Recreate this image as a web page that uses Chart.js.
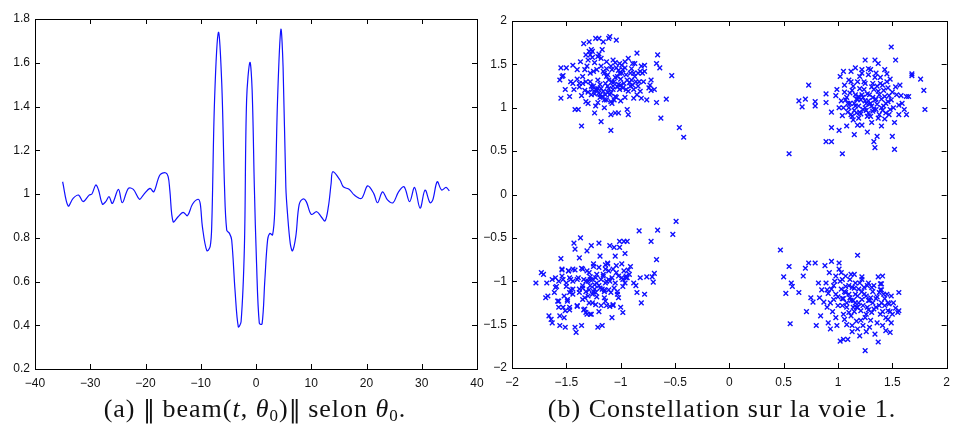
<!DOCTYPE html>
<html lang="fr">
<head>
<meta charset="UTF-8">
<title>beam / constellation</title>
<script src="https://cdn.jsdelivr.net/npm/chart.js"></script>
<style>
  body { margin: 0; background: #fff; width: 957px; height: 432px; position: relative; overflow: hidden; }
  canvas { position: absolute; top: 0; }
  #beamCanvas { left: 0; }
  #constCanvas { left: 480px; }
  .caption {
    position: absolute; top: 394px;
    font-family: 'Liberation Serif', 'DejaVu Serif', serif;
    font-size: 26px; letter-spacing: 1px; color: #111; white-space: nowrap;
    transform: translateX(-50%);
  }
  .caption sub { font-size: 17px; vertical-align: -4px; line-height: 0; }
  .caption .nrm { font-family: 'DejaVu Serif', serif; font-size: 24px; letter-spacing: 0; }
</style>
</head>
<body>

<canvas id="beamCanvas" width="500" height="395"></canvas>
<canvas id="constCanvas" width="477" height="395"></canvas>

<div class="caption" style="left:255px">(a) <span class="nrm">&#8214;</span> beam(<i>t</i>, <i>&theta;</i><sub>0</sub>)<span class="nrm">&#8214;</span> selon <i>&theta;</i><sub>0</sub>.</div>
<div class="caption" style="left:722px">(b) Constellation sur la voie 1.</div>

<script>
// (a) norme du beam selon theta0
const beamX = [-35, -34.0, -33.1, -32.1, -31.3, -30.2, -29.7, -29.0, -28.5, -27.8, -27.2, -26.6, -26.0, -24.9,
  -24.2, -23.1, -22.2, -21.1, -20.4, -19.2, -18.5, -17.4, -16.4, -15.9, -15.6, -15.0, -14.1, -13.2, -12.4,
  -11.5, -10.5, -10.1, -9.7, -8.9, -8.3, -8.0, -7.5, -6.8, -6.2, -5.7, -5.3, -4.8, -4.4, -3.8, -3.2, -2.7,
  -2.1, -1.7, -1.1, -0.7, -0.3, 0.1, 0.6, 1.1, 1.6, 2.1, 2.5, 3.0, 3.4, 3.9, 4.5, 4.9, 5.4, 5.7, 6.2, 6.6,
  7.2, 7.8, 8.5, 9.1, 10.0, 11.0, 11.8, 12.5, 13.1, 13.6, 13.9, 15.2, 15.8, 16.9, 17.8, 19.1, 20.2, 21.3,
  22.0, 22.9, 23.8, 24.8, 25.8, 26.8, 27.8, 28.7, 29.7, 30.6, 31.5, 32.0, 32.8, 33.6, 34.4, 35.0];
const beamY = [1.056, 0.945, 0.98, 0.995, 0.965, 0.995, 1.0, 1.041, 1.018, 0.954, 0.965, 0.988, 0.957, 1.021,
  0.96, 1.026, 1.021, 0.976, 0.995, 1.026, 1.01, 1.087, 1.097, 1.079, 1.018, 0.873, 0.896, 0.916, 0.901,
  0.953, 0.976, 0.957, 0.85, 0.741, 0.759, 0.866, 1.43, 1.739, 1.506, 1.033, 0.835, 0.82, 0.79, 0.561, 0.393, 0.416,
  0.759, 1.43, 1.602, 1.475, 1.033, 0.683, 0.409, 0.406, 0.607, 0.79, 0.82, 0.813, 0.927, 1.43, 1.752, 1.582, 1.033, 0.911, 0.774, 0.74,
  0.805, 0.95, 0.977, 0.965, 0.907, 0.919, 0.896, 0.877, 0.942, 1.049, 1.102, 1.064, 1.033, 1.021, 0.995, 0.98, 1.037, 1.003,
  0.96, 1.01, 0.973, 0.96, 1.01, 1.033, 0.965, 1.03, 0.935, 1.018, 0.96, 0.973, 1.056, 1.018, 1.03, 1.014];
const beamXTicks = [-40, 40, 10];
const beamYTicks = [0.2, 1.8, 0.2];

// (b) constellation, voie 1 : quatre nuages
const ptsTopLeft = [[-1.56,1.32],[-1.55,1.46],[-1.54,1.36],[-1.53,1.37],[-1.55,1.11],[-1.51,1.21],[-1.50,1.46],
  [-1.47,1.13],[-1.44,1.28],[-1.44,1.49],[-1.43,1.21],[-1.42,0.98],[-1.39,0.98],[-1.40,1.44],[-1.38,1.28],
  [-1.38,1.24],[-1.37,1.53],[-1.36,0.79],[-1.35,1.36],[-1.35,1.28],[-1.34,1.74],[-1.33,1.44],[-1.32,1.61],
  [-1.32,1.30],[-1.32,1.07],[-1.31,1.48],[-1.30,1.05],[-1.29,1.76],[-1.29,1.65],[-1.28,1.61],[-1.28,1.30],
  [-1.27,1.67],[-1.26,1.65],[-1.26,1.21],[-1.25,1.42],[-1.24,0.94],[-1.23,1.80],[-1.23,1.21],[-1.23,1.02],
  [-1.22,1.44],[-1.21,1.32],[-1.21,1.59],[-1.20,1.80],[-1.20,1.17],[-1.19,1.15],[-1.18,0.84],[-1.18,1.57],
  [-1.17,1.13],[-1.17,1.67],[-1.16,1.76],[-1.16,1.42],[-1.15,1.00],[-1.14,1.28],[-1.13,1.36],[-1.13,1.09],
  [-1.12,1.25],[-1.11,1.32],[-1.11,1.80],[-1.10,1.82],[-1.09,1.07],[-1.09,0.92],[-1.09,0.74],[-1.08,1.44],
  [-1.07,1.21],[-1.07,1.55],[-1.07,1.25],[-1.06,1.09],[-1.05,1.13],[-1.05,0.94],[-1.04,1.78],[-1.04,1.46],
  [-1.03,1.36],[-1.02,0.94],[-1.01,1.21],[-1.01,1.51],[-1.01,1.40],[-1.00,1.26],[-0.99,1.49],[-0.98,1.23],
  [-0.98,1.44],[-0.96,1.53],[-0.95,1.21],[-0.94,1.32],[-0.94,0.98],[-0.93,1.57],[-0.93,0.92],[-0.91,1.25],
  [-0.91,1.40],[-0.90,1.32],[-0.89,1.51],[-0.88,1.11],[-0.88,1.21],[-0.87,1.51],[-0.86,1.30],[-0.85,1.63],
  [-0.85,1.15],[-0.84,1.40],[-0.83,1.30],[-0.82,1.42],[-0.81,1.48],[-0.81,1.11],[-0.80,1.40],[-0.79,1.30],
  [-0.78,1.49],[-0.78,1.42],[-0.76,1.09],[-0.74,1.23],[-0.73,1.26],[-0.72,1.20],[-0.72,1.32],[-0.69,1.21],
  [-0.67,1.51],[-0.67,1.06],[-0.66,1.61],[-0.64,1.46],[-0.63,0.88],[-0.58,1.10],[-0.53,1.37],[-0.46,0.77],
  [-0.42,0.66],[-1.22,1.20],[-1.18,1.22],[-1.12,1.18],[-1.08,1.30],[-1.15,1.40],[-1.25,1.25],[-1.05,1.35],
  [-1.19,1.27],[-1.10,1.15],[-1.27,1.15],[-1.02,1.27],[-1.13,1.45],
  [-1.30,1.18],[-1.27,1.25],[-1.24,1.16],[-1.21,1.22],[-1.19,1.12],[-1.16,1.19],[-1.14,1.15],[-1.11,1.22],
  [-1.09,1.17],[-1.06,1.30],[-1.03,1.24],[-1.00,1.33],[-0.97,1.28],[-0.95,1.38],[-0.92,1.29],[-0.90,1.45],
  [-0.87,1.36],[-0.84,1.25],[-0.82,1.19],[-0.96,1.12],[-1.00,1.08],[-1.04,1.12],[-1.08,1.05],[-1.12,1.38],
  [-1.09,1.48],[-1.05,1.52],[-1.02,1.43],[-0.99,1.40],[-1.18,1.48],[-1.24,1.52],[-1.28,1.40],[-1.33,1.20],
  [-1.36,1.14],[-1.40,1.33],[-1.46,1.30],[-1.21,1.06],[-1.15,1.09],[-0.93,1.19],[-0.89,1.26],[-1.13,1.53],
  [-1.20,1.62],[-1.26,1.58],[-1.30,1.55],[-0.96,1.46],[-0.88,1.40]];
const ptsTopRight = [[0.55,0.47],[0.64,1.08],[0.67,1.01],[0.70,1.10],[0.73,1.26],[0.79,1.07],[0.79,1.02],
  [0.89,1.16],[0.89,1.06],[0.89,0.61],[0.94,0.95],[0.94,0.61],[0.94,0.77],[0.98,1.14],[0.99,1.21],[1.01,1.00],
  [1.01,0.74],[1.02,1.36],[1.04,0.47],[1.04,0.91],[1.05,1.42],[1.06,1.26],[1.07,1.09],[1.08,0.79],[1.09,1.05],
  [1.10,1.32],[1.11,1.17],[1.12,1.42],[1.13,0.90],[1.14,1.25],[1.15,0.69],[1.16,1.02],[1.16,1.46],[1.17,0.94],
  [1.18,0.80],[1.19,1.13],[1.19,0.88],[1.20,1.36],[1.21,1.09],[1.22,1.44],[1.22,0.80],[1.23,0.98],[1.24,1.21],
  [1.25,1.55],[1.25,1.28],[1.26,1.05],[1.27,0.72],[1.28,1.38],[1.28,0.94],[1.29,1.15],[1.30,1.44],[1.31,0.83],
  [1.31,1.02],[1.32,1.28],[1.33,1.21],[1.33,0.61],[1.34,0.54],[1.34,1.55],[1.34,1.09],[1.35,0.98],[1.36,0.67],
  [1.37,1.19],[1.37,1.51],[1.38,0.92],[1.39,1.35],[1.40,0.79],[1.40,1.10],[1.41,1.26],[1.42,1.02],[1.43,1.44],
  [1.43,1.13],[1.44,0.94],[1.45,1.39],[1.46,1.23],[1.46,1.07],[1.47,0.92],[1.48,1.33],[1.49,1.70],[1.49,1.09],
  [1.50,0.67],[1.51,1.00],[1.52,0.52],[1.52,0.83],[1.53,1.24],[1.53,1.55],[1.54,1.15],[1.56,0.92],[1.56,1.03],
  [1.57,1.26],[1.58,1.14],[1.59,1.05],[1.61,0.98],[1.63,0.92],[1.63,1.13],[1.65,1.13],[1.68,1.39],[1.68,1.37],
  [1.76,1.33],[1.79,1.20],[1.80,0.98],[1.10,1.00],[1.15,1.05],[1.20,0.95],[1.25,1.00],[1.30,1.05],[1.35,1.10],
  [1.12,0.92],[1.18,1.10],[1.28,1.08],[1.05,1.00],[1.22,1.15],[1.40,1.00],[1.27,0.90],[1.32,0.96],
  [1.08,1.12],[1.11,1.05],[1.13,1.20],[1.15,0.97],[1.17,1.10],[1.19,1.02],[1.20,1.22],[1.21,0.93],[1.23,1.12],
  [1.24,1.30],[1.26,0.97],[1.27,1.16],[1.29,1.04],[1.30,0.90],[1.31,1.24],[1.32,1.12],[1.33,0.98],[1.34,1.35],
  [1.36,1.04],[1.37,0.88],[1.38,1.15],[1.39,1.28],[1.41,0.97],[1.42,1.20],[1.44,1.05],[1.45,1.30],[1.47,1.14],
  [1.48,0.98],[1.50,1.18],[1.09,0.95],[1.06,1.18],[1.03,1.08],[1.14,0.86],[1.18,1.30],[1.22,1.40],[1.28,1.45],
  [1.35,1.40],[1.25,1.08],[1.16,1.15],[1.43,0.87],[1.12,1.30],[1.36,1.25]];
const ptsBottomLeft = [[-1.78,-1.02],[-1.73,-0.90],[-1.71,-0.92],[-1.69,-1.19],[-1.68,-1.02],[-1.67,-1.17],
  [-1.66,-1.40],[-1.64,-1.44],[-1.63,-1.48],[-1.63,-0.98],[-1.61,-1.13],[-1.60,-1.07],[-1.58,-1.23],[-1.57,-1.30],
  [-1.56,-1.40],[-1.56,-1.51],[-1.55,-0.74],[-1.54,-0.86],[-1.53,-0.98],[-1.53,-1.30],[-1.52,-1.42],[-1.51,-1.53],
  [-1.50,-1.02],[-1.49,-1.21],[-1.48,-0.88],[-1.47,-1.13],[-1.47,-1.30],[-1.46,-0.98],[-1.44,-1.09],[-1.44,-0.86],
  [-1.43,-0.56],[-1.42,-0.63],[-1.42,-1.53],[-1.41,-1.59],[-1.40,-0.98],[-1.40,-1.28],[-1.38,-0.73],[-1.38,-1.09],
  [-1.37,-0.50],[-1.36,-1.51],[-1.35,-0.86],[-1.35,-1.21],[-1.34,-0.98],[-1.33,-1.32],[-1.32,-1.36],[-1.31,-0.65],
  [-1.30,-1.17],[-1.29,-0.90],[-1.28,-1.05],[-1.28,-1.38],[-1.27,-0.59],[-1.26,-0.98],[-1.26,-1.25],[-1.25,-0.80],
  [-1.24,-1.09],[-1.23,-0.96],[-1.22,-1.02],[-1.21,-1.53],[-1.20,-0.56],[-1.20,-0.84],[-1.19,-0.71],[-1.18,-1.28],
  [-1.17,-1.09],[-1.17,-1.51],[-1.16,-0.94],[-1.15,-1.19],[-1.14,-0.86],[-1.14,-1.02],[-1.13,-1.28],[-1.12,-0.79],
  [-1.11,-0.98],[-1.10,-0.59],[-1.09,-1.13],[-1.08,-1.42],[-1.07,-0.86],[-1.07,-1.28],[-1.06,-0.61],[-1.05,-1.02],
  [-1.05,-0.71],[-1.04,-0.82],[-1.03,-1.15],[-1.02,-0.94],[-1.01,-0.54],[-1.01,-0.61],[-1.00,-1.30],[-0.99,-0.80],
  [-0.98,-0.98],[-0.98,-1.36],[-0.97,-0.54],[-0.96,-0.68],[-0.95,-0.94],[-0.94,-0.54],[-0.94,-0.96],[-0.92,-0.92],
  [-0.91,-0.83],[-0.88,-1.02],[-0.86,-1.05],[-0.85,-1.13],[-0.83,-0.42],[-0.82,-0.96],[-0.81,-1.25],[-0.78,-1.15],
  [-0.76,-0.95],[-0.72,-0.54],[-0.71,-0.95],[-0.70,-1.01],[-0.69,-0.91],[-0.67,-0.75],[-0.66,-0.41],[-0.52,-0.46],
  [-0.49,-0.31],[-1.30,-1.00],[-1.25,-1.12],[-1.20,-1.05],[-1.15,-1.10],[-1.35,-1.05],[-1.22,-1.18],[-1.10,-1.00],
  [-1.28,-0.95],[-1.18,-0.98],[-1.32,-1.12],
  [-1.60,-0.96],[-1.59,-1.06],[-1.57,-1.00],[-1.57,-1.23],[-1.54,-0.87],[-1.54,-0.94],[-1.52,-1.17],[-1.51,-1.34],
  [-1.50,-1.06],[-1.49,-1.23],[-1.48,-0.88],[-1.47,-0.96],[-1.47,-1.33],[-1.46,-1.10],[-1.44,-1.15],[-1.44,-1.00],
  [-1.42,-0.87],[-1.40,-1.29],[-1.39,-0.96],[-1.38,-1.13],[-1.36,-0.85],[-1.35,-1.08],[-1.34,-1.33],[-1.33,-1.19],
  [-1.32,-1.00],[-1.31,-1.38],[-1.31,-0.88],[-1.29,-1.10],[-1.29,-1.25],[-1.28,-0.98],[-1.27,-1.38],[-1.26,-1.15],
  [-1.25,-0.83],[-1.24,-1.04],[-1.23,-1.27],[-1.23,-1.13],[-1.22,-0.92],[-1.20,-1.35],[-1.19,-1.08],[-1.16,-0.92],
  [-1.15,-1.12],[-1.14,-0.81],[-1.14,-1.23],[-1.13,-1.00],[-1.12,-0.80],[-1.11,-0.88],[-1.11,-1.10],[-1.10,-1.29],
  [-1.08,-0.96],[-1.07,-1.27],[-1.06,-1.08],[-1.04,-0.90],[-1.03,-1.12],[-1.02,-1.19],[-0.99,-0.96],[-0.98,-1.06],
  [-0.97,-0.88],[-0.96,-1.02],[-0.95,-0.96],[-0.93,-0.87]];
const ptsBottomRight = [[0.47,-0.64],[0.50,-0.95],[0.52,-1.14],[0.55,-0.83],[0.56,-1.49],[0.57,-1.02],[0.58,-1.06],
  [0.64,-1.13],[0.68,-0.94],[0.70,-0.85],[0.71,-1.35],[0.73,-0.79],[0.75,-1.19],[0.77,-1.24],[0.79,-0.79],
  [0.80,-1.51],[0.82,-1.02],[0.83,-1.19],[0.84,-1.40],[0.85,-1.10],[0.87,-1.24],[0.88,-0.82],[0.89,-1.02],
  [0.90,-1.30],[0.91,-1.14],[0.91,-1.48],[0.92,-0.90],[0.93,-1.55],[0.94,-1.09],[0.94,-0.77],[0.95,-1.35],
  [0.96,-1.21],[0.97,-1.00],[0.98,-1.42],[0.98,-0.94],[0.99,-1.51],[1.00,-1.18],[1.01,-0.79],[1.01,-0.86],
  [1.02,-1.69],[1.03,-1.09],[1.04,-1.28],[1.04,-0.98],[1.05,-1.67],[1.06,-1.44],[1.07,-1.13],[1.07,-0.94],
  [1.08,-1.25],[1.09,-1.67],[1.10,-1.05],[1.10,-1.36],[1.11,-1.19],[1.12,-0.92],[1.13,-1.07],[1.13,-1.51],
  [1.14,-1.30],[1.15,-0.92],[1.16,-1.15],[1.16,-1.02],[1.17,-1.46],[1.18,-0.70],[1.19,-1.25],[1.19,-1.09],
  [1.20,-1.63],[1.21,-1.34],[1.22,-0.98],[1.22,-1.21],[1.23,-1.51],[1.24,-1.07],[1.25,-1.42],[1.25,-1.80],
  [1.26,-1.17],[1.27,-1.30],[1.28,-1.02],[1.29,-1.53],[1.30,-1.19],[1.31,-1.36],[1.31,-1.07],[1.32,-1.25],
  [1.33,-1.05],[1.34,-1.61],[1.35,-1.30],[1.36,-1.18],[1.37,-1.70],[1.38,-1.13],[1.39,-1.38],[1.40,-1.03],
  [1.40,-1.25],[1.41,-1.51],[1.42,-1.15],[1.43,-1.28],[1.44,-1.57],[1.45,-1.15],[1.46,-1.44],[1.46,-1.34],
  [1.47,-1.26],[1.48,-1.59],[1.49,-1.17],[1.49,-1.48],[1.50,-1.38],[1.51,-1.25],[1.53,-1.31],[1.55,-1.36],
  [1.56,-1.13],[1.56,-1.34],[1.37,-0.95],[1.39,-1.03],[1.40,-1.10],[1.41,-0.94],[1.12,-1.22],[1.18,-1.30],
  [1.05,-1.20],[1.22,-1.12],[1.15,-1.35],[1.28,-1.22],
  [0.96,-1.05],[0.98,-1.15],[1.00,-1.28],[1.02,-1.00],[1.04,-1.20],[1.05,-1.38],[1.07,-1.06],[1.08,-1.30],
  [1.10,-1.15],[1.11,-0.98],[1.12,-1.40],[1.14,-1.22],[1.15,-1.08],[1.17,-1.30],[1.18,-1.17],[1.20,-1.02],
  [1.21,-1.45],[1.23,-1.28],[1.24,-1.15],[1.26,-1.38],[1.27,-1.05],[1.29,-1.22],[1.30,-1.45],[1.32,-1.12],
  [1.33,-1.32],[1.35,-1.20],[1.36,-1.48],[1.38,-1.28],[1.39,-1.10],[1.41,-1.35],[1.43,-1.20],[1.44,-1.42],
  [1.46,-1.25],[1.48,-1.35],[1.13,-1.58],[1.18,-1.55],[1.08,-1.50],[1.26,-1.58],[1.22,-0.95],[1.03,-0.90],
  [0.93,-1.25],[0.90,-1.10],[1.16,-1.25],[1.28,-1.33],[1.06,-1.12]];
const constTicks = [-2, 2, 0.5];

const BLUE = '#1010ff';
const tickFont = { family: "'Liberation Sans', Arial, sans-serif", size: 12 };
const xTickFont = { family: "'Liberation Sans Narrow', 'Liberation Sans', Arial, sans-serif", size: 12 };

function fmt(v) {
  return String(+v.toFixed(2)).replace('-', '\u2212');
}

// cadre fermé + graduations vers l'intérieur (style MATLAB)
const boxTicks = {
  id: 'boxTicks',
  afterDraw(chart) {
    const { ctx, chartArea: a, scales } = chart;
    const len = 5;
    ctx.save();
    ctx.strokeStyle = '#000';
    ctx.lineWidth = 1;
    ctx.strokeRect(Math.round(a.left) + 0.5, Math.round(a.top) + 0.5,
      Math.round(a.right - a.left), Math.round(a.bottom - a.top));
    ctx.beginPath();
    scales.x.ticks.forEach(t => {
      const px = Math.round(scales.x.getPixelForValue(t.value)) + 0.5;
      ctx.moveTo(px, a.bottom); ctx.lineTo(px, a.bottom - len);
      ctx.moveTo(px, a.top); ctx.lineTo(px, a.top + len);
    });
    scales.y.ticks.forEach(t => {
      const py = Math.round(scales.y.getPixelForValue(t.value)) + 0.5;
      ctx.moveTo(a.left, py); ctx.lineTo(a.left + len, py);
      ctx.moveTo(a.right, py); ctx.lineTo(a.right - len, py);
    });
    ctx.stroke();
    ctx.restore();
  }
};

function axes(xt, yt, yWidth, xHeight) {
  return {
    x: {
      type: 'linear', min: xt[0], max: xt[1],
      grid: { display: false, drawTicks: false },
      border: { display: false },
      ticks: { stepSize: xt[2], padding: 7, font: xTickFont, color: '#111', maxRotation: 0, callback: fmt },
      afterFit(s) { s.height = xHeight; }
    },
    y: {
      type: 'linear', min: yt[0], max: yt[1],
      grid: { display: false, drawTicks: false },
      border: { display: false },
      ticks: { stepSize: yt[2], padding: 5, font: tickFont, color: '#111', callback: fmt },
      afterFit(s) { s.width = yWidth; }
    }
  };
}

const common = {
  responsive: false,
  animation: false,
  events: [],
  plugins: { legend: { display: false }, tooltip: { enabled: false } }
};

new Chart(document.getElementById('beamCanvas'), {
  type: 'line',
  data: {
    datasets: [{
      data: beamX.map((x, i) => ({ x: x, y: beamY[i] })),
      borderColor: BLUE,
      borderWidth: 1.2,
      pointRadius: 0,
      tension: 0.35,
      fill: false
    }]
  },
  options: Object.assign({}, common, {
    layout: { padding: { left: 0, right: 23, top: 19, bottom: 0 } },
    scales: axes(beamXTicks, beamYTicks, 35, 26)
  }),
  plugins: [boxTicks]
});

const constPts = [].concat(ptsTopLeft, ptsTopRight, ptsBottomLeft, ptsBottomRight);

new Chart(document.getElementById('constCanvas'), {
  type: 'scatter',
  data: {
    datasets: [{
      data: constPts.map(p => ({ x: p[0], y: p[1] })),
      pointStyle: 'crossRot',
      pointRadius: 3.3,
      borderColor: BLUE,
      backgroundColor: BLUE,
      borderWidth: 1.4
    }]
  },
  options: Object.assign({}, common, {
    layout: { padding: { left: 0, right: 4, top: 21, bottom: 0 } },
    scales: axes(constTicks, constTicks, 32, 27)
  }),
  plugins: [boxTicks]
});
</script>
</body>
</html>
